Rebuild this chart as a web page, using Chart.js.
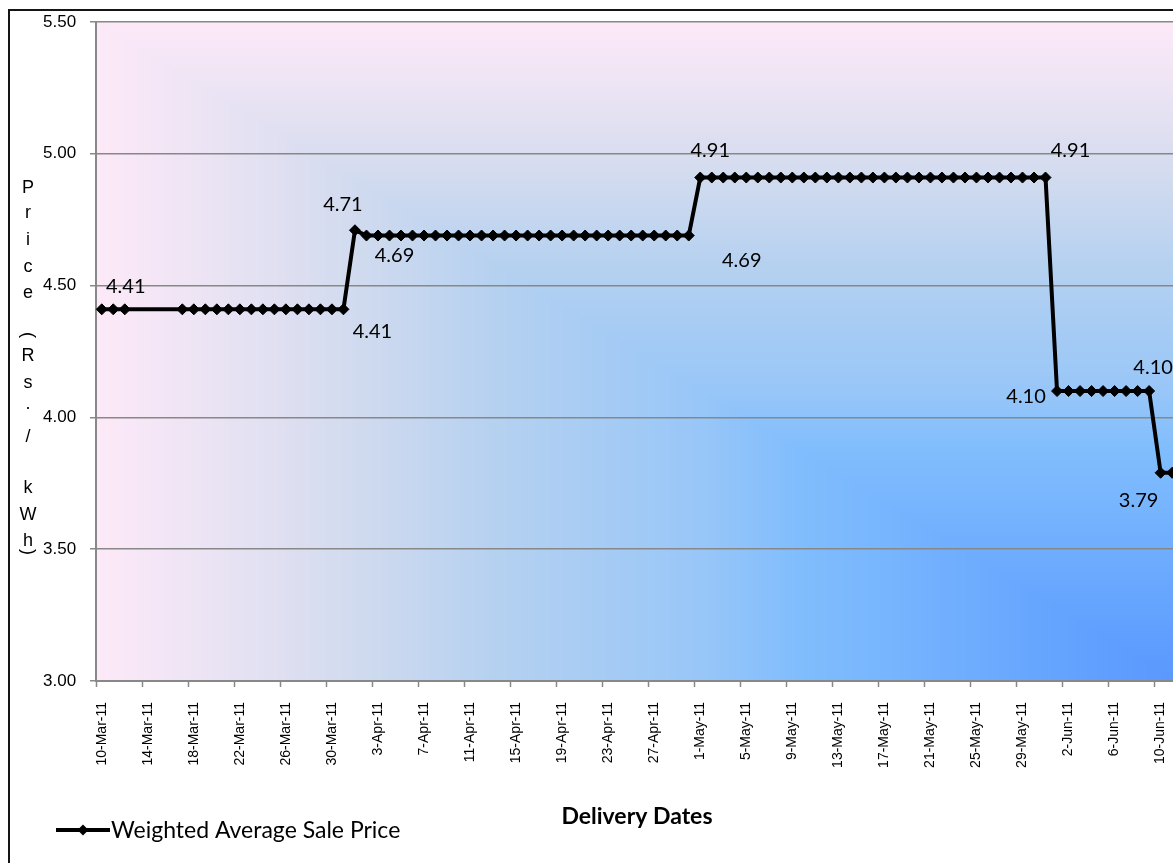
<!DOCTYPE html>
<html>
<head>
<meta charset="utf-8">
<script src="https://cdn.jsdelivr.net/npm/chart.js@4.4.0/dist/chart.umd.min.js"></script>
<style>
  html, body { margin: 0; padding: 0; background: #fff; overflow: hidden; }
  #wrap { position: relative; width: 1204px; height: 863px; }
  #frame { position: absolute; left: 8px; top: 9px; width: 1190px; height: 900px;
           border: 2px solid #151515; box-sizing: border-box; pointer-events: none; }
  canvas { position: absolute; left: 0; top: 0; }
</style>
</head>
<body>
<div id="wrap">
  <canvas id="priceChart" width="1204" height="863"></canvas>
  <div id="frame"></div>
</div>
<script>
// daily delivery dates, 10-Mar-11 .. 11-Jun-11
const monthNames = ['Jan', 'Feb', 'Mar', 'Apr', 'May', 'Jun', 'Jul', 'Aug', 'Sep', 'Oct', 'Nov', 'Dec'];
const deliveryDates = [];
for (let i = 0; i < 94; i++) {
    const d = new Date(2011, 2, 10 + i);
    deliveryDates.push(d.getDate() + '-' + monthNames[d.getMonth()] + '-11');
}

// weighted average sale price (Rs./kWh), one value per day; null = no trading
const marchPrices = [4.41, 4.41, 4.41, null, null, null, null,
    4.41, 4.41, 4.41, 4.41, 4.41, 4.41, 4.41, 4.41, 4.41, 4.41, 4.41, 4.41, 4.41, 4.41, 4.41];
const aprilPrices = [4.71,
    4.69, 4.69, 4.69, 4.69, 4.69, 4.69, 4.69, 4.69, 4.69, 4.69,
    4.69, 4.69, 4.69, 4.69, 4.69, 4.69, 4.69, 4.69, 4.69, 4.69,
    4.69, 4.69, 4.69, 4.69, 4.69, 4.69, 4.69, 4.69, 4.69];
const mayPrices = [4.91, 4.91, 4.91, 4.91, 4.91, 4.91, 4.91, 4.91, 4.91, 4.91,
    4.91, 4.91, 4.91, 4.91, 4.91, 4.91, 4.91, 4.91, 4.91, 4.91,
    4.91, 4.91, 4.91, 4.91, 4.91, 4.91, 4.91, 4.91, 4.91, 4.91, 4.91];
const junePrices = [4.10, 4.10, 4.10, 4.10, 4.10, 4.10, 4.10, 4.10, 4.10, 3.79, 3.79];
const salePrices = [...marchPrices, ...aprilPrices, ...mayPrices, ...junePrices];

const yTicks = [3.00, 3.50, 4.00, 4.50, 5.00, 5.50];

// pink-to-blue fill of the plot area, shading in from the top and left edges
const fillStops = [
    [0.00, [253, 233, 248]], [0.10, [236, 228, 244]], [0.22, [213, 220, 239]],
    [0.37, [181, 209, 240]], [0.56, [152, 198, 248]], [0.65, [128, 189, 253]],
    [0.74, [118, 180, 254]], [0.93, [96, 159, 254]], [1.00, [90, 152, 254]]
];
function fillColor(t) {
    for (let i = 1; i < fillStops.length; i++) {
        const [t1, c1] = fillStops[i];
        const [t0, c0] = fillStops[i - 1];
        if (t <= t1) {
            const f = (t - t0) / (t1 - t0);
            return c0.map((c, k) => c + (c1[k] - c) * f);
        }
    }
    return fillStops[fillStops.length - 1][1];
}
const plotFill = {
    id: 'plotFill',
    beforeDraw(chart) {
        const { ctx, chartArea: a } = chart;
        const w = Math.round(a.right - a.left), h = Math.round(a.bottom - a.top);
        const img = ctx.createImageData(w, h);
        for (let y = 0; y < h; y++) {
            for (let x = 0; x < w; x++) {
                const c = fillColor(Math.min(x / (w - 1), y / (h - 1)));
                const p = (y * w + x) * 4;
                img.data[p] = c[0]; img.data[p + 1] = c[1]; img.data[p + 2] = c[2]; img.data[p + 3] = 255;
            }
        }
        ctx.putImageData(img, Math.round(a.left), Math.round(a.top));
    }
};

// value labels on selected points
const pointLabels = {
    id: 'pointLabels',
    afterDatasetsDraw(chart, args, opts) {
        const { ctx } = chart;
        const meta = chart.getDatasetMeta(0);
        const values = chart.data.datasets[0].data;
        ctx.save();
        ctx.font = '20px Lato';
        ctx.fillStyle = '#000';
        ctx.textAlign = 'center';
        ctx.textBaseline = 'middle';
        opts.items.forEach(({ index, dx, dy }) => {
            const pt = meta.data[index];
            ctx.fillText(values[index].toFixed(2), pt.x + dx, pt.y + dy);
        });
        ctx.restore();
    }
};

// stacked vertical axis title
const yTitle = {
    id: 'yTitle',
    afterDraw(chart, args, opts) {
        const { ctx } = chart;
        ctx.save();
        ctx.font = '18px "Liberation Sans"';
        ctx.fillStyle = '#000';
        ctx.textAlign = 'center';
        ctx.textBaseline = 'middle';
        opts.rows.forEach(([ch, y]) => {
            if (ch === '(' || ch === ')') {
                ctx.save();
                ctx.translate(opts.x, y);
                ctx.rotate(Math.PI / 2);
                ctx.fillText(ch, 0, 0);
                ctx.restore();
            } else {
                ctx.fillText(ch, opts.x, y);
            }
        });
        ctx.restore();
    }
};

// legend entry: line with diamond marker
const legendRow = {
    id: 'legendRow',
    afterDraw(chart, args, opts) {
        const { ctx } = chart;
        const ds = chart.data.datasets[0];
        const { x, y, len } = opts;
        ctx.save();
        ctx.strokeStyle = ds.borderColor;
        ctx.lineWidth = ds.borderWidth;
        ctx.beginPath();
        ctx.moveTo(x, y);
        ctx.lineTo(x + len, y);
        ctx.stroke();
        const cx = x + len / 2, r = ds.pointRadius;
        ctx.fillStyle = ds.pointBackgroundColor;
        ctx.beginPath();
        ctx.moveTo(cx - r, y); ctx.lineTo(cx, y - r); ctx.lineTo(cx + r, y); ctx.lineTo(cx, y + r);
        ctx.closePath();
        ctx.fill();
        ctx.font = '23px Lato';
        ctx.fillStyle = '#000';
        ctx.textBaseline = 'middle';
        ctx.fillText(ds.label, x + len + 1, y + 1);
        ctx.restore();
    }
};

new Chart(document.getElementById('priceChart'), {
    type: 'line',
    data: {
        labels: deliveryDates,
        datasets: [{
            label: 'Weighted Average Sale Price',
            data: salePrices,
            borderColor: '#000',
            backgroundColor: '#000',
            borderWidth: 4,
            pointStyle: 'rectRot',
            pointRadius: 5.5,
            pointBorderWidth: 1,
            pointBackgroundColor: '#000',
            pointBorderColor: '#000',
            spanGaps: true,
            tension: 0
        }]
    },
    options: {
        responsive: false,
        animation: false,
        layout: { padding: { left: 43, top: 22, right: 13, bottom: 0 } },
        plugins: {
            legend: { display: false },
            tooltip: { enabled: false },
            pointLabels: {
                items: [
                    { index: 0, dx: 24, dy: -23 },
                    { index: 21, dx: 29, dy: 22 },
                    { index: 22, dx: -12, dy: -26 },
                    { index: 23, dx: 28, dy: 20 },
                    { index: 51, dx: 53, dy: 25 },
                    { index: 52, dx: 10, dy: -27 },
                    { index: 82, dx: 25, dy: -27 },
                    { index: 83, dx: -31, dy: 6 },
                    { index: 91, dx: 4, dy: -23 },
                    { index: 92, dx: -22, dy: 28 }
                ]
            },
            yTitle: {
                x: 28,
                rows: [['P', 188], ['r', 213], ['i', 240], ['c', 267], ['e', 293], ['(', 335],
                       ['R', 356], ['s', 383], ['.', 404], ['/', 437], ['k', 488], ['W', 515],
                       ['h', 541], [')', 552]]
            },
            legendRow: { x: 56, y: 830, len: 54 }
        },
        scales: {
            x: {
                offset: true,
                grid: {
                    offset: true,
                    drawOnChartArea: false,
                    tickLength: 6,
                    tickWidth: 1.5,
                    tickColor: ctx => ctx.index % 4 === 0 ? '#888' : 'rgba(0,0,0,0)'
                },
                border: { color: '#888', width: 2 },
                ticks: {
                    autoSkip: false,
                    minRotation: 90,
                    maxRotation: 90,
                    padding: 15,
                    color: '#000',
                    font: { family: 'Liberation Sans', size: 14 },
                    callback(value, index) {
                        return index % 4 === 0 ? this.getLabelForValue(value) : '';
                    }
                },
                title: {
                    display: true,
                    text: 'Delivery Dates',
                    color: '#000',
                    font: { family: 'Lato', size: 23, weight: 'bold' },
                    padding: { top: 0, bottom: 33 }
                },
                afterFit(scale) { scale.height = 182; }
            },
            y: {
                min: 3,
                max: 5.5,
                afterBuildTicks(scale) { scale.ticks = yTicks.map(v => ({ value: v })); },
                ticks: {
                    padding: 0,
                    crossAlign: 'far',
                    color: '#000',
                    font: { family: '"Liberation Sans Narrow", "Liberation Sans"', size: 17 },
                    callback: v => v.toFixed(2)
                },
                grid: { color: '#888', lineWidth: 1.5, tickLength: 6 },
                border: { color: '#888', width: 2 },
                afterFit(scale) { scale.width = 53; }
            }
        }
    },
    plugins: [plotFill, pointLabels, yTitle, legendRow]
});
</script>
</body>
</html>
